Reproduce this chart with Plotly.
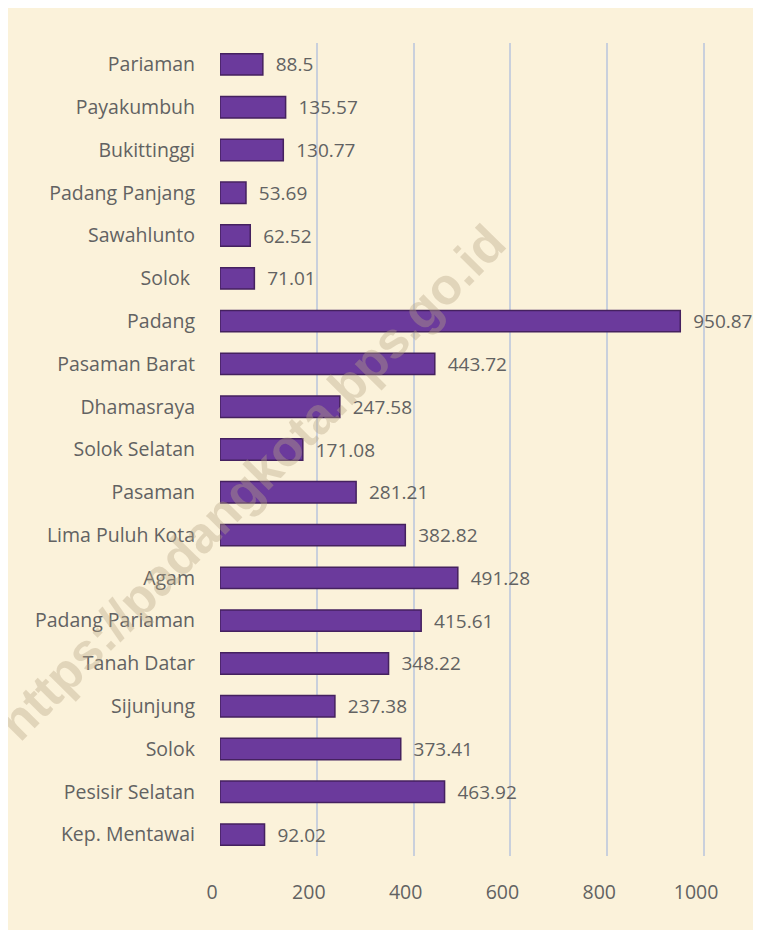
import plotly.graph_objects as go

regions = ["Pariaman", "Payakumbuh", "Bukittinggi", "Padang Panjang", "Sawahlunto",
           "Solok ", "Padang", "Pasaman Barat", "Dhamasraya", "Solok Selatan",
           "Pasaman", "Lima Puluh Kota", "Agam", "Padang Pariaman", "Tanah Datar",
           "Sijunjung", "Solok", "Pesisir Selatan", "Kep. Mentawai"]
values = [88.5, 135.57, 130.77, 53.69, 62.52, 71.01, 950.87, 443.72, 247.58, 171.08,
          281.21, 382.82, 491.28, 415.61, 348.22, 237.38, 373.41, 463.92, 92.02]
value_labels = ["88.5", "135.57", "130.77", "53.69", "62.52", "71.01", "950.87", "443.72",
                "247.58", "171.08", "281.21", "382.82", "491.28", "415.61", "348.22",
                "237.38", "373.41", "463.92", "92.02"]
x_ticks = [0, 200, 400, 600, 800, 1000]

FONT = "'Open Sans', Lato, sans-serif"
GREY = "#626262"

fig = go.Figure()
fig.add_trace(go.Bar(
    y=regions, x=values, orientation="h",
    marker=dict(color="#6b3a9c", line=dict(color="#45215f", width=1.5)),
    text=value_labels, texttemplate="  %{text}", textposition="outside", cliponaxis=False,
    constraintext="none",
    textfont=dict(family=FONT, size=19, color=GREY),
    width=0.5,
    hoverinfo="skip",
))

fig.update_layout(
    width=761, height=930,
    margin=dict(l=212, r=63, t=35, b=82),
    paper_bgcolor="#fbf2da",
    plot_bgcolor="rgba(0,0,0,0)",
    showlegend=False,
    font=dict(family=FONT, color=GREY),
    xaxis=dict(range=[0, 1004], tickvals=x_ticks, ticktext=[str(t) for t in x_ticks],
               showgrid=True, gridcolor="#c9d0dc", gridwidth=1.5,
               zeroline=False, showline=False, ticks="",
               tickfont=dict(family=FONT, size=19.5, color=GREY),
               ticklabelstandoff=22, ticklabelshift=-8, fixedrange=True),
    yaxis=dict(autorange="reversed", showgrid=False, showline=False, ticks="",
               tickfont=dict(family=FONT, size=19.5, color=GREY),
               ticklabelstandoff=24, fixedrange=True),
    annotations=[dict(
        text="<b>https://padangkota.bps.go.id</b>", xref="paper", yref="paper",
        x=0.065, y=0.46, xanchor="center", yanchor="middle", showarrow=False,
        textangle=-45.5, font=dict(family="Liberation Sans, Arial", size=51,
                                   color="rgba(185,165,135,0.38)"),
    )],
)

fig.write_html("out.html")
